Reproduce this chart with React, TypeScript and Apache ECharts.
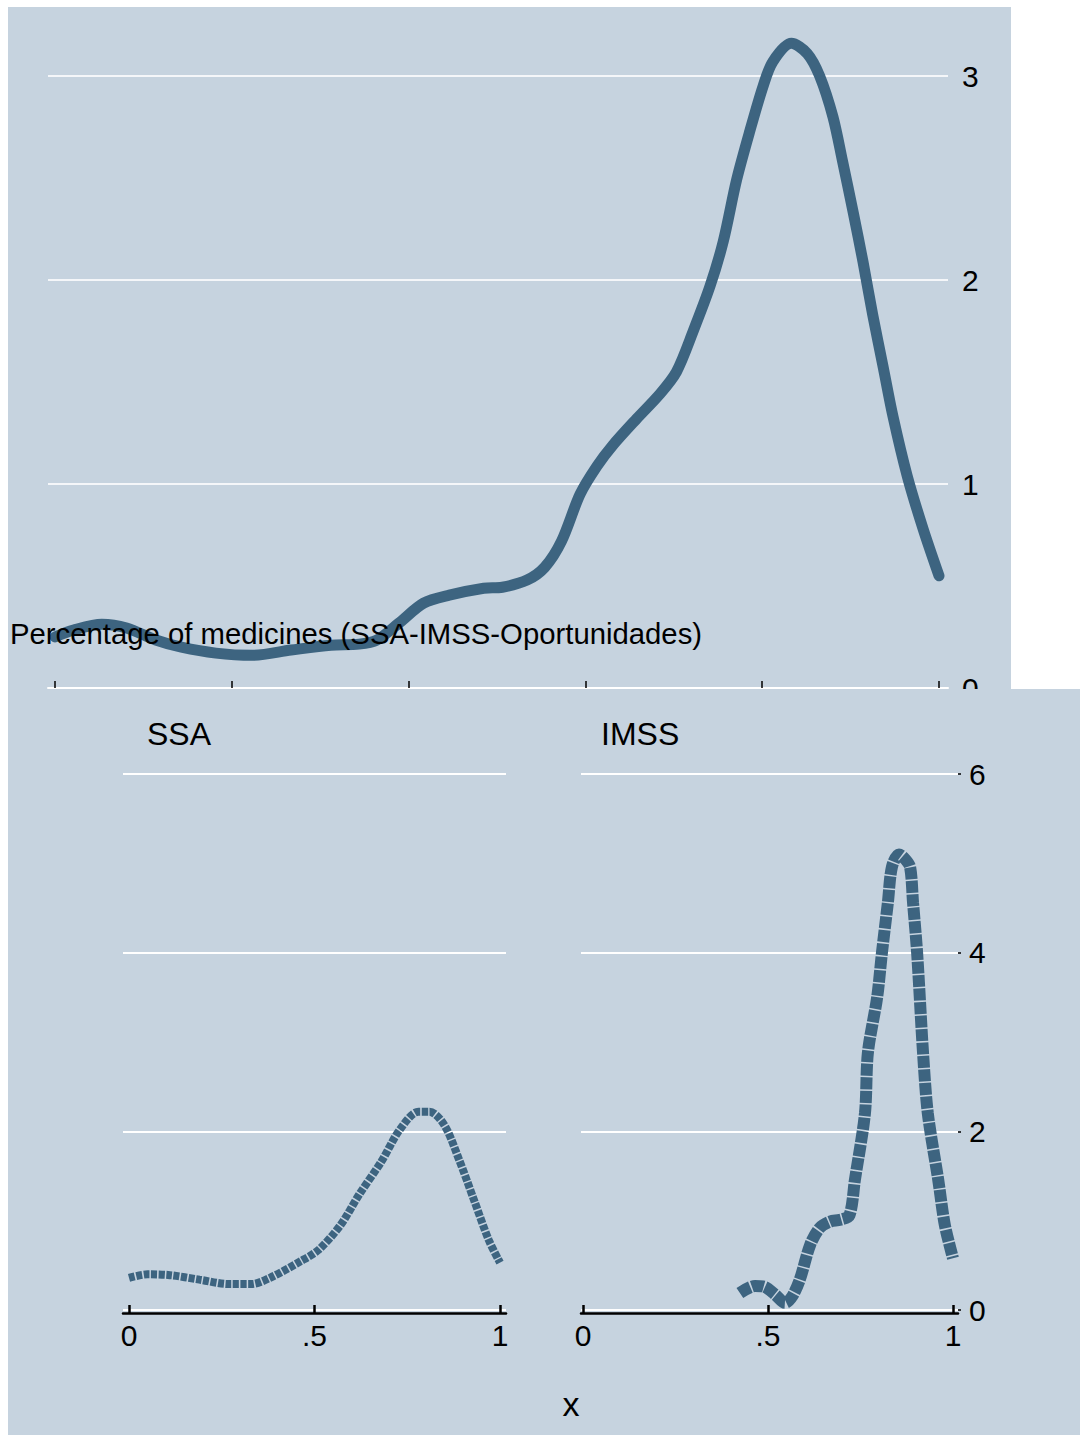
import React, { useEffect, useRef } from "react";
import * as echarts from "echarts";

// Top panel: kernel density of share of medicines (pooled)
const topX = [0, 0.021, 0.053, 0.081, 0.114, 0.143, 0.182, 0.223, 0.267, 0.312, 0.344, 0.364, 0.389, 0.417, 0.446, 0.485, 0.506, 0.534, 0.554, 0.573, 0.594, 0.613, 0.631, 0.658, 0.684, 0.703, 0.722, 0.741, 0.756, 0.771, 0.786, 0.801, 0.812, 0.833, 0.851, 0.865, 0.88, 0.891, 0.903, 0.914, 0.925, 0.937, 0.948, 0.964, 0.982, 1.0];
const topY = [0.25, 0.284, 0.313, 0.294, 0.235, 0.2, 0.171, 0.16, 0.186, 0.21, 0.215, 0.235, 0.318, 0.416, 0.455, 0.489, 0.494, 0.529, 0.592, 0.72, 0.95, 1.087, 1.19, 1.32, 1.44, 1.55, 1.75, 1.97, 2.19, 2.49, 2.73, 2.95, 3.07, 3.16, 3.11, 3.0, 2.8, 2.58, 2.33, 2.09, 1.83, 1.57, 1.33, 1.04, 0.78, 0.55];

// Bottom panels
const ssaX = [0, 0.05, 0.11, 0.19, 0.27, 0.33, 0.38, 0.46, 0.51, 0.57, 0.62, 0.68, 0.73, 0.78, 0.81, 0.85, 0.89, 0.93, 0.97, 1.0];
const ssaY = [0.36, 0.4, 0.39, 0.34, 0.29, 0.29, 0.36, 0.54, 0.67, 0.95, 1.29, 1.66, 2.02, 2.22, 2.22, 2.07, 1.68, 1.23, 0.78, 0.53];
const imssX = [0.424, 0.465, 0.49, 0.52, 0.546, 0.565, 0.586, 0.614, 0.64, 0.668, 0.695, 0.72, 0.735, 0.762, 0.77, 0.795, 0.808, 0.824, 0.835, 0.854, 0.87, 0.884, 0.892, 0.903, 0.919, 0.932, 0.96, 0.978, 1.0];
const imssY = [0.19, 0.27, 0.26, 0.17, 0.08, 0.15, 0.34, 0.73, 0.92, 0.99, 1.01, 1.06, 1.46, 2.2, 2.88, 3.5, 4.0, 4.56, 4.96, 5.1, 5.05, 4.96, 4.56, 4.0, 2.88, 2.2, 1.46, 0.95, 0.58];

const topTicks = [0, 0.2, 0.4, 0.6, 0.8, 1];
const bottomTicks = [0, 0.5, 1];
const panelTitles = ["SSA", "IMSS"];
const topTitle = "Percentage of medicines (SSA-IMSS-Oportunidades)";
const xTitle = "x";

const BG = "#c6d3df";
const LINE = "#3d6480";
const FONT = "'Liberation Sans', Arial, sans-serif";

const pairs = (xs: number[], ys: number[]) => xs.map((x, i) => [x, ys[i]]);
const fmtX = (v: number) => String(v).replace(/^0\./, ".");

export default function App() {
  const ref = useRef<HTMLDivElement>(null);
  useEffect(() => {
    document.body.style.margin = "0";
    const chart = echarts.init(ref.current!, null, { renderer: "svg" });
    const labelStyle = { color: "#000", fontSize: 30, fontFamily: FONT };
    chart.setOption({
      animation: false,
      backgroundColor: "#ffffff",
      grid: [
        { left: 48, right: 132, top: 76, bottom: 747 },
        { left: 123, right: 574, top: 774, bottom: 125 },
        { left: 581, right: 122, top: 774, bottom: 125 },
      ],
      xAxis: [
        {
          gridIndex: 0, type: "value", min: -7 / 884, max: 1 + 9 / 884, z: 0,
          axisLine: { show: true, onZero: false, lineStyle: { color: "#ffffff", width: 2 } },
          axisTick: { show: true, inside: true, length: 7, customValues: topTicks, lineStyle: { color: "#000", width: 1.5 } },
          axisLabel: { show: false },
          splitLine: { show: false },
        },
        {
          gridIndex: 1, type: "value", min: -6 / 371, max: 1 + 6 / 371, z: 5, offset: 3,
          axisLine: { show: true, onZero: false, lineStyle: { color: "#000", width: 2.5 } },
          axisTick: { show: true, inside: true, length: 8, customValues: bottomTicks, lineStyle: { color: "#000", width: 2.5 } },
          axisLabel: { ...labelStyle, margin: 7, customValues: bottomTicks, formatter: fmtX },
          splitLine: { show: false },
        },
        {
          gridIndex: 2, type: "value", min: -2 / 370, max: 1 + 5 / 370, z: 5, offset: 3,
          axisLine: { show: true, onZero: false, lineStyle: { color: "#000", width: 2.5 } },
          axisTick: { show: true, inside: true, length: 8, customValues: bottomTicks, lineStyle: { color: "#000", width: 2.5 } },
          axisLabel: { ...labelStyle, margin: 7, customValues: bottomTicks, formatter: fmtX },
          splitLine: { show: false },
        },
      ],
      yAxis: [
        {
          gridIndex: 0, type: "value", min: 0, max: 3, interval: 1, position: "right", z: 0,
          axisLine: { show: false, onZero: false }, axisTick: { show: false },
          axisLabel: { ...labelStyle, margin: 14 },
          splitLine: { show: true, lineStyle: { color: "#f4f6f9", width: 2 } },
        },
        {
          gridIndex: 1, type: "value", min: 0, max: 6, interval: 2, z: 5,
          axisLine: { show: false, onZero: false }, axisTick: { show: false }, axisLabel: { show: false },
          splitLine: { show: true, lineStyle: { color: "#ffffff", width: 2 } },
        },
        {
          gridIndex: 2, type: "value", min: 0, max: 6, interval: 2, position: "right", z: 5,
          axisLine: { show: false, onZero: false },
          axisTick: { show: true, length: 3, lineStyle: { color: "#000", width: 1.5 } },
          axisLabel: { ...labelStyle, margin: 11 },
          splitLine: { show: true, lineStyle: { color: "#ffffff", width: 2 } },
        },
      ],
      series: [
        {
          type: "line", xAxisIndex: 0, yAxisIndex: 0, data: pairs(topX, topY), smooth: 0.3,
          showSymbol: false, clip: false, z: 2,
          lineStyle: { color: LINE, width: 11, cap: "round", join: "round" },
        },
        {
          type: "line", xAxisIndex: 1, yAxisIndex: 1, data: pairs(ssaX, ssaY), smooth: 0.3,
          showSymbol: false, clip: false, z: 6,
          lineStyle: { color: LINE, width: 8, type: [6, 1.5], cap: "butt" },
        },
        {
          type: "line", xAxisIndex: 2, yAxisIndex: 2, data: pairs(imssX, imssY), smooth: 0.3,
          showSymbol: false, clip: false, z: 6,
          lineStyle: { color: LINE, width: 12, type: [12, 1.5], cap: "butt" },
        },
      ],
      graphic: [
        { type: "rect", z: -10, silent: true, shape: { x: 8, y: 7, width: 1003, height: 683 }, style: { fill: BG } },
        { type: "text", z: 3, x: 10, y: 633, style: { text: topTitle, fill: "#000", font: `29.3px ${FONT}`, verticalAlign: "middle" } },
        { type: "rect", z: 4, silent: true, shape: { x: 8, y: 689, width: 1072, height: 746 }, style: { fill: BG } },
        { type: "text", z: 7, x: 147, y: 734, style: { text: panelTitles[0], fill: "#000", font: `32px ${FONT}`, verticalAlign: "middle" } },
        { type: "text", z: 7, x: 601, y: 734, style: { text: panelTitles[1], fill: "#000", font: `32px ${FONT}`, verticalAlign: "middle" } },
        { type: "text", z: 7, x: 571, y: 1404, style: { text: xTitle, fill: "#000", font: `34px ${FONT}`, align: "center", verticalAlign: "middle" } },
      ],
    });
    return () => chart.dispose();
  }, []);
  return <div ref={ref} style={{ width: 1080, height: 1435 }} />;
}
